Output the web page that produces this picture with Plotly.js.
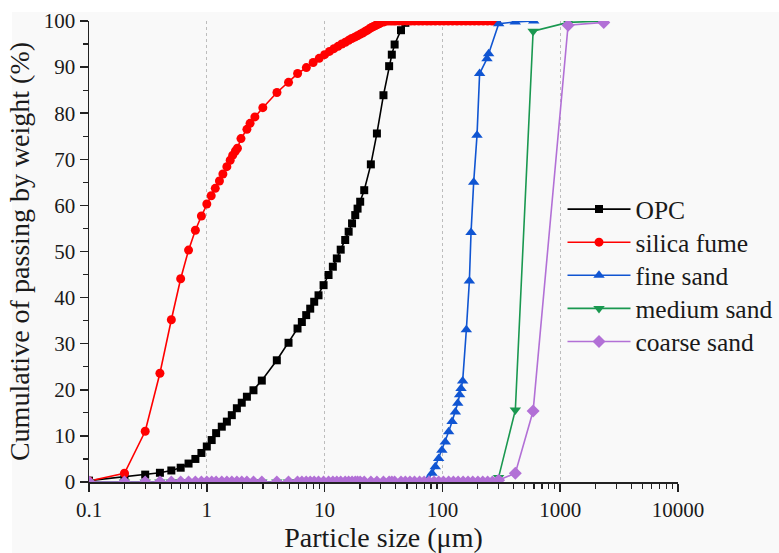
<!DOCTYPE html>
<html>
<head>
<meta charset="utf-8">
<script src="https://cdn.plot.ly/plotly-3.0.1.min.js"></script>
<style>html,body{margin:0;padding:0;background:#fff;}#chart{width:779px;height:553px;}</style>
</head>
<body>
<div id="chart"></div>
<script>
// ---- data ----
const seriesNames = ["OPC", "silica fume", "fine sand", "medium sand", "coarse sand"];

const opcX = [0.1,0.2,0.3,0.4,0.5,0.6,0.7,0.8,0.9,1.0,1.1,1.2,1.34,1.48,1.63,1.8,1.98,2.19,2.49,2.93,3.93,4.94,5.89,6.41,6.98,7.55,8.16,8.88,9.8,10.8,11.75,12.7,13.7,14.96,16.0,17.1,18.2,19.05,20.05,21.7,24.7,27.8,31.6,35.3,37.2,39.3,44.5,48.5,55,65,80,100];
const opcY = [0.3,1.2,1.6,2.0,2.5,3.1,4.0,5.0,6.3,7.7,9.1,10.6,12.0,13.1,14.5,16.0,17.2,18.5,19.9,22.0,26.4,30.2,33.3,34.7,36.2,37.6,39.1,40.5,42.7,44.9,46.7,48.5,50.4,52.5,54.3,56.1,57.9,59.3,60.8,63.3,68.9,75.6,83.9,90.2,92.7,94.9,98.0,99.6,100,100,100,100];

const silicaX = [0.1,0.2,0.3,0.4,0.5,0.6,0.7,0.8,0.9,1.0,1.09,1.18,1.28,1.37,1.48,1.58,1.66,1.75,1.82,1.95,2.19,2.33,2.56,2.99,3.94,4.94,5.9,7,8,9,10,11,12,13,14,15,16,17,18,19,20,21,22,23,24,25,26,27,28,29,30,32,34,36,38,40,43,46,50,54,58,63,68,74,80,87,95,103,112,122,133,145,158,172,187,204,222,242,264,288];
const silicaY = [0.2,1.9,11.0,23.6,35.2,44.1,50.3,54.6,57.7,60.3,62.1,63.7,65.3,66.8,68.4,69.8,70.9,71.8,72.4,74.5,76.5,77.8,79.2,81.2,84.5,86.7,88.6,89.9,91.0,91.9,92.7,93.4,94.0,94.5,95.0,95.4,95.8,96.2,96.5,96.8,97.1,97.4,97.7,98.0,98.3,98.6,98.8,99.0,99.2,99.4,99.6,99.8,100,100,100,100,100,100,100,100,100,100,100,100,100,100,100,100,100,100,100,100,100,100,100,100,100,100,100,100];

// size classes where the sands read 0 %
const sandZeroX = [0.1,0.2,0.3,0.4,0.5,0.6,0.7,0.8,0.9,1.0,1.1,1.2,1.34,1.48,1.63,1.8,1.98,2.19,2.49,2.93,3.93,4.94,5.89,6.41,6.98,7.55,8.16,8.88,9.8,10.8,11.75,12.7,13.7,14.96,16.0,17.1,18.2,19.05,20.05,21.7,24.7,27.8,31.6,35.3,37.2,39.3,44.5,48.5,53,58,64,70];
const sandZeroY = [0,0,0,0,0,0,0,0,0,0,0,0,0,0,0,0,0,0,0,0,0,0,0,0,0,0,0,0,0,0,0,0,0,0,0,0,0,0,0,0,0,0,0,0,0,0,0,0,0,0,0,0];
const coarseZeroX = [77,85,93,102,113,124,136,150,165,181,200,220,242,266];
const coarseZeroY = [0,0,0,0,0,0,0,0,0,0,0,0,0,0];

const fineX = [75,81.6,87,92.9,99,105.8,113,120.8,128.9,135,140,143.9,148.6,159.7,169.4,175,184.3,196.7,207,239,247,300.6,415,596];
const fineY = [0.5,1.9,3.3,5.1,6.9,8.7,10.9,13.1,15.2,17.1,18.9,20.3,21.9,33.0,43.6,54.1,65.0,75.2,88.6,91.8,92.9,99.4,99.8,100];

const mediumX = [300,416,589,1167,2343];
const mediumY = [1.0,15.6,97.8,99.7,100];

const coarseX = [300,416,589,1167,2343];
const coarseY = [0.4,1.9,15.4,99.1,99.7];

const xTickVals = [0.1,1,10,100,1000,10000];
const xTickText = ["0.1","1","10","100","1000","10000"];

// ---- styling ----
const FONT = "Liberation Serif";
const TXT = "#1a1a1a";
const colors = ["#000000", "#ff0000", "#1055d2", "#1a9850", "#b270d6"];
const symbols = ["square", "circle", "triangle-up", "triangle-down", "diamond"];
const sizes = [8, 9, 10, 10, 10];
const legendIds = ["legend", "legend2", "legend3", "legend4", "legend5"];
const legendCenterPx = [209.5, 242.6, 275.7, 308.8, 341.9];

const xs = [opcX, silicaX, sandZeroX.concat(fineX), sandZeroX.concat(coarseZeroX, mediumX), sandZeroX.concat(coarseZeroX, coarseX)];
const ys = [opcY, silicaY, sandZeroY.concat(fineY), sandZeroY.concat(coarseZeroY, mediumY), sandZeroY.concat(coarseZeroY, coarseY)];

const traces = seriesNames.map((n, i) => ({
  type: "scatter",
  mode: "lines+markers",
  name: n,
  legend: legendIds[i],
  x: xs[i],
  y: ys[i],
  line: {color: colors[i], width: 1.6},
  marker: {color: colors[i], symbol: symbols[i], size: sizes[i]},
  cliponaxis: true
}));

const W = 779, H = 553;
const L = 89, R = 101, T = 21, B = 71;
const PW = W - L - R, PH = H - T - B;
const bgGray = "#f9f9f9";

const layout = {
  width: W, height: H,
  margin: {l: L, r: R, t: T, b: B, pad: 0, autoexpand: false},
  paper_bgcolor: bgGray,
  plot_bgcolor: bgGray,
  font: {family: FONT, color: TXT, size: 20},
  showlegend: true,
  xaxis: {
    type: "log",
    range: [-1, 4],
    tickmode: "array", tickvals: xTickVals, ticktext: xTickText,
    ticks: "outside", ticklen: 8, tickwidth: 1.5, tickcolor: "#222",
    minor: {ticks: "outside", ticklen: 5, tickwidth: 1.2, tickcolor: "#222", dtick: "D1", showgrid: false},
    showline: true, linecolor: "#222", linewidth: 1.5,
    showgrid: true, gridcolor: "#bdbdbd", griddash: "dot", gridwidth: 1,
    zeroline: false,
    tickfont: {family: FONT, size: 21, color: TXT},
    title: {text: "Particle size (μm)", font: {family: FONT, size: 28, color: TXT}, standoff: 9}
  },
  yaxis: {
    range: [0, 100],
    dtick: 10, tick0: 0,
    ticks: "outside", ticklen: 8, tickwidth: 1.5, tickcolor: "#222",
    minor: {ticks: "outside", ticklen: 5, tickwidth: 1.2, tickcolor: "#222", dtick: 5, showgrid: false},
    showline: true, linecolor: "#222", linewidth: 1.5,
    showgrid: false, zeroline: false,
    tickfont: {family: FONT, size: 21, color: TXT},
    title: {text: "Cumulative of passing by weight (%)", font: {family: FONT, size: 28, color: TXT}, standoff: 6}
  },
  shapes: [
    {type: "rect", xref: "paper", yref: "paper", layer: "below",
     x0: -L / PW, x1: 1 + R / PW, y0: 1 + (T - 12) / PH, y1: 1 + T / PH,
     fillcolor: "#ffffff", line: {width: 0}},
    {type: "rect", xref: "paper", yref: "paper", layer: "below",
     x0: -L / PW, x1: -(L - 12) / PW, y0: -B / PH, y1: 1 + T / PH,
     fillcolor: "#ffffff", line: {width: 0}}
  ]
};

legendIds.forEach((id, i) => {
  layout[id] = {
    xref: "container", yref: "container",
    x: 562.5 / W, y: 1 - legendCenterPx[i] / H,
    xanchor: "left", yanchor: "middle",
    bgcolor: "rgba(0,0,0,0)", borderwidth: 0,
    font: {family: FONT, size: 25.5, color: TXT},
    itemwidth: 63
  };
});

Plotly.newPlot("chart", traces, layout, {displayModeBar: false, staticPlot: true});
</script>
</body>
</html>
